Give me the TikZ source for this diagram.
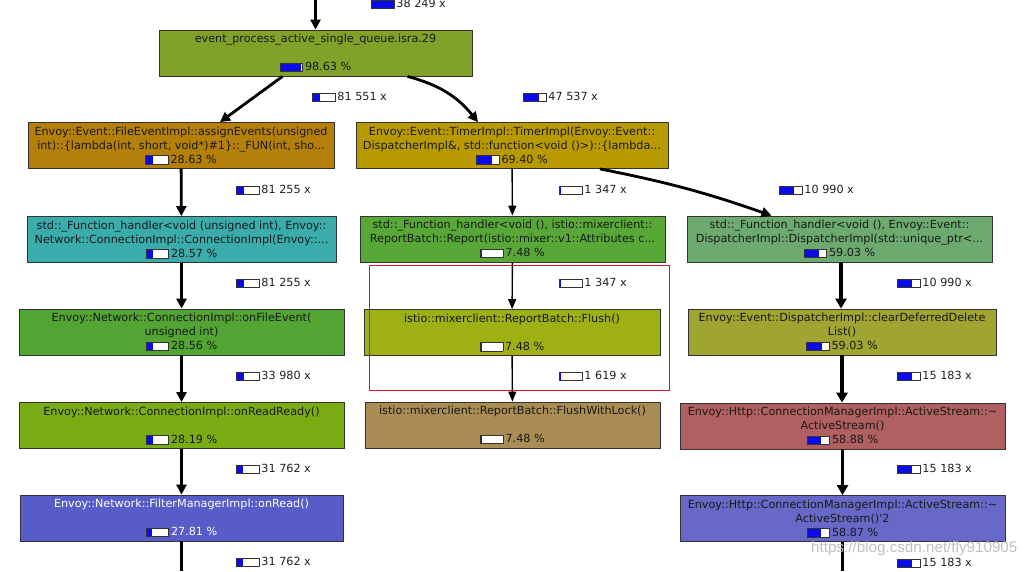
\documentclass[tikz,border=0pt]{standalone}
\usepackage{fontspec}
\setmainfont{DejaVu Sans}
\newfontfamily\wmfont{Liberation Sans}
\usepackage{xcolor}
\usepackage{tikz}
\usetikzlibrary{calc,arrows.meta}
\definecolor{barBlue}{RGB}{10, 10, 235}
\definecolor{rootGreen}{RGB}{128, 162, 40}
\definecolor{fileGold}{RGB}{181, 128, 10}
\definecolor{connTeal}{RGB}{59, 172, 172}
\definecolor{eventGreen}{RGB}{82, 165, 50}
\definecolor{readyGreen}{RGB}{122, 172, 20}
\definecolor{filterBlue}{RGB}{88, 92, 200}
\definecolor{timerGold}{RGB}{184, 154, 0}
\definecolor{reportGreen}{RGB}{88, 168, 56}
\definecolor{flushLime}{RGB}{158, 176, 20}
\definecolor{lockTan}{RGB}{170, 140, 85}
\definecolor{dispSage}{RGB}{108, 170, 112}
\definecolor{clearOlive}{RGB}{160, 164, 48}
\definecolor{dtorRed}{RGB}{176, 96, 96}
\definecolor{dtorBlue}{RGB}{104, 104, 200}
\definecolor{markRed}{RGB}{200, 30, 30}
\newcommand{\meter}[1]{{\setlength{\fboxsep}{0pt}\setlength{\fboxrule}{0.7pt}\raisebox{-0.8pt}{\fcolorbox{black!80}{white}{\textcolor{barBlue}{\rule{#1pt}{8pt}}\rule{0pt}{8pt}\hspace{\dimexpr 22pt-#1pt\relax}}}}}

\begin{document}
\begin{tikzpicture}[x=1pt, y=-1pt,
    fn/.style={draw=black!80, line width=0.8pt, minimum height=46, inner sep=0pt,
      align=center, text=black!90, font=\fontsize{11.2}{14}\selectfont},
    hits/.style={anchor=west, inner sep=0pt, text=black!88, font=\fontsize{11.2}{13}\selectfont},
    call/.style={line width=2.8pt, -{Triangle[length=10pt, width=10pt]}},
    heavy call/.style={line width=3.3pt, -{Triangle[length=10pt, width=11pt]}},
    thin call/.style={line width=1.4pt, -{Triangle[length=10pt, width=8pt]}}]
    \useasboundingbox (0,0) rectangle (1034,571);

    \node[fn, fill=rootGreen, minimum width=313] (evq) at (315.5,53)
      {event\_process\_active\_single\_queue.isra.29\\[14pt]\meter{21}\,98.63 \%};
    \node[fn, fill=fileGold, minimum width=306] (fei) at (181,145.5)
      {Envoy::Event::FileEventImpl::assignEvents(unsigned\\ int)::\{lambda(int, short, void*)\#1\}::\_FUN(int, sho...\\ \meter{7}\,28.63 \%};
    \node[fn, fill=connTeal, minimum width=309] (fhconn) at (181.5,239.5)
      {std::\_Function\_handler<void (unsigned int), Envoy::\\ Network::ConnectionImpl::ConnectionImpl(Envoy::...\\ \meter{7}\,28.57 \%};
    \node[fn, fill=eventGreen, minimum width=325] (onfile) at (181.5,332)
      {Envoy::Network::ConnectionImpl::onFileEvent(\\ unsigned int)\\ \meter{7}\,28.56 \%};
    \node[fn, fill=readyGreen, minimum width=325] (onready) at (181.5,425.5)
      {Envoy::Network::ConnectionImpl::onReadReady()\\[14pt]\meter{7}\,28.19 \%};
    \node[fn, fill=filterBlue, text=white, minimum width=323] (onread) at (181.5,518)
      {Envoy::Network::FilterManagerImpl::onRead()\\[14pt]\meter{6}\,27.81 \%};

    \node[fn, fill=timerGold, minimum width=312] (timer) at (512,145.5)
      {Envoy::Event::TimerImpl::TimerImpl(Envoy::Event::\\ DispatcherImpl\&, std::function<void ()>)::\{lambda...\\ \meter{15}\,69.40 \%};
    \node[fn, fill=reportGreen, minimum width=305] (report) at (512.5,239)
      {std::\_Function\_handler<void (), istio::mixerclient::\\ ReportBatch::Report(istio::mixer::v1::Attributes c...\\ \meter{1}\,7.48 \%};
    \node[fn, fill=flushLime, minimum width=296] (flush) at (512,332.5)
      {istio::mixerclient::ReportBatch::Flush()\\[14pt]\meter{1}\,7.48 \%};
    \node[fn, fill=lockTan, minimum width=295] (flushlock) at (512.5,425)
      {istio::mixerclient::ReportBatch::FlushWithLock()\\[14pt]\meter{1}\,7.48 \%};

    \node[fn, fill=dispSage, minimum width=305] (dispatch) at (839.5,239)
      {std::\_Function\_handler<void (), Envoy::Event::\\ DispatcherImpl::DispatcherImpl(std::unique\_ptr<...\\ \meter{15}\,59.03 \%};
    \node[fn, fill=clearOlive, minimum width=308] (cleardd) at (842,332)
      {Envoy::Event::DispatcherImpl::clearDeferredDelete\\ List()\\ \meter{15}\,59.03 \%};
    \node[fn, fill=dtorRed, minimum width=325] (dtor) at (842.5,426)
      {Envoy::Http::ConnectionManagerImpl::ActiveStream::\textasciitilde\\ ActiveStream()\\ \meter{14}\,58.88 \%};
    \node[fn, fill=dtorBlue, minimum width=325] (dtortwo) at (842.5,518.5)
      {Envoy::Http::ConnectionManagerImpl::ActiveStream::\textasciitilde\\ ActiveStream()\textquotesingle 2\\ \meter{14}\,58.87 \%};

    \coordinate (entry) at (evq.north |- 0,0);
    \coordinate (leftexit) at (onread.south |- 0,571);
    \coordinate (rightexit) at (dtortwo.south |- 0,571);

    \draw[call] (entry) -- (evq.north);
    \draw[call] ([xshift=-33pt]evq.south) -- ([xshift=39pt]fei.north);
    \draw[call] ([xshift=92pt]evq.south) to[bend left=18] ([xshift=-34pt]timer.north);
    \draw[call] (fei) -- (fhconn);
    \draw[call] (fhconn) -- (onfile);
    \draw[call] (onfile) -- (onready);
    \draw[call] (onready) -- (onread);
    \draw[line width=2.8pt] (onread.south) -- (leftexit);
    \draw[thin call] (timer) -- (report);
    \draw[thin call] (report) -- (flush);
    \draw[thin call] (flush) -- (flushlock);
    \draw[call] ([xshift=88pt]timer.south) to[bend left=4] ([xshift=-68pt]dispatch.north);
    \draw[heavy call] ([xshift=1.5pt]dispatch.south) -- ([xshift=1.5pt]dispatch.south |- cleardd.north);
    \draw[heavy call] (cleardd.south) -- (cleardd.south |- dtor.north);
    \draw[heavy call] (dtor.south) -- (dtortwo.north);
    \draw[line width=3.3pt] (dtortwo.south) -- (rightexit);

    \node[hits] (h0) at (371,4) {\meter{22}\,38 249 x};
    \node[hits] (h1) at (312,97) {\meter{7}\,81 551 x};
    \node[hits] (h2) at (523,97) {\meter{15}\,47 537 x};
    \node[hits] (h3) at (236,190) {\meter{7}\,81 255 x};
    \node[hits] (h4) at (559,190) {\meter{1}\,1 347 x};
    \node[hits] (h5) at (779,190) {\meter{14}\,10 990 x};
    \node[hits] (h6) at (236,283) {\meter{7}\,81 255 x};
    \node[hits] (h7) at (559,283) {\meter{1}\,1 347 x};
    \node[hits] (h8) at (897,283) {\meter{14}\,10 990 x};
    \node[hits] (h9) at (236,376) {\meter{7}\,33 980 x};
    \node[hits] (h10) at (559,376) {\meter{1}\,1 619 x};
    \node[hits] (h11) at (897,376) {\meter{14}\,15 183 x};
    \node[hits] (h12) at (236,469) {\meter{6}\,31 762 x};
    \node[hits] (h13) at (897,469) {\meter{14}\,15 183 x};
    \node[hits] (h14) at (236,562) {\meter{6}\,31 762 x};
    \node[hits] (h15) at (897,563) {\meter{14}\,15 183 x};

    \draw[markRed, line width=0.8pt] (369,265) rectangle (669,390);
    \node[anchor=west, inner sep=0pt, text=black!25, font=\wmfont\fontsize{15.2}{16}\selectfont] (wm) at (811,549) {https://blog.csdn.net/fly910905};
\end{tikzpicture}
\end{document}
